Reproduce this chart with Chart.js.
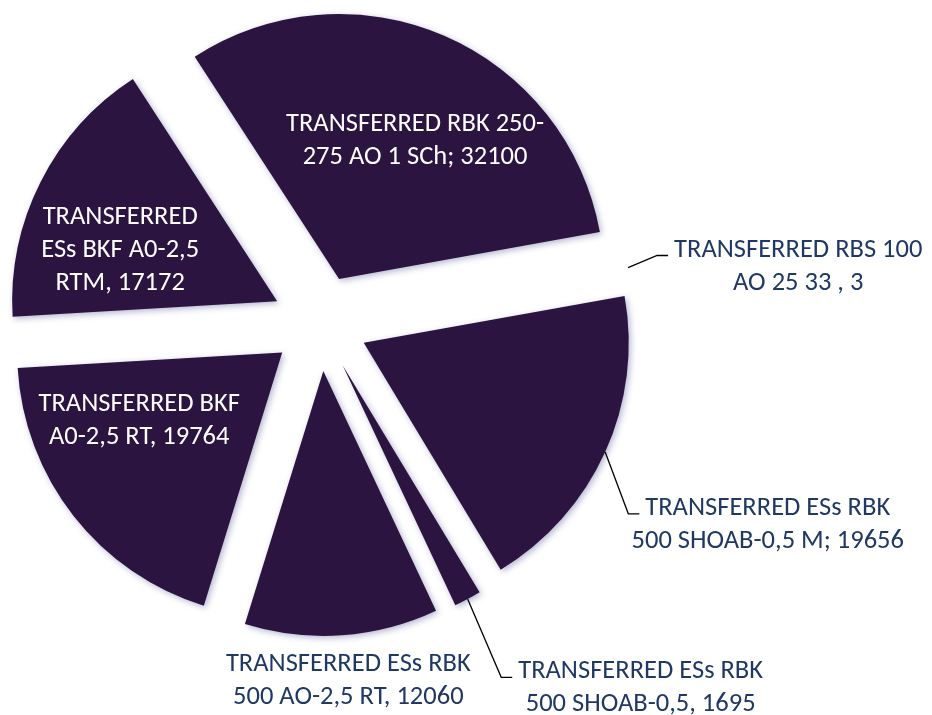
<!DOCTYPE html>
<html>
<head>
<meta charset="utf-8">
<script src="https://cdn.jsdelivr.net/npm/chart.js@4.4.1/dist/chart.umd.min.js"></script>
<style>
  html, body { margin: 0; background: #fff; }
</style>
</head>
<body>
<canvas id="chart" width="932" height="715"></canvas>
<script>
// slices, clockwise from the start angle
const categories = [
  'TRANSFERRED RBK 250-275 AO 1 SCh',
  'TRANSFERRED RBS 100 AO 25 33',
  'TRANSFERRED ESs RBK 500 SHOAB-0,5 M',
  'TRANSFERRED ESs RBK 500 SHOAB-0,5',
  'TRANSFERRED ESs RBK 500 AO-2,5 RT',
  'TRANSFERRED BKF A0-2,5 RT',
  'TRANSFERRED ESs BKF A0-2,5 RTM'
]
const values = [32100, 3, 19656, 1695, 12060, 19764, 17172]

// label text as wrapped in the picture, value goes on the last line
const labelHead = [
  ['TRANSFERRED RBK 250-'],
  ['TRANSFERRED RBS 100'],
  ['TRANSFERRED ESs RBK'],
  ['TRANSFERRED ESs RBK'],
  ['TRANSFERRED ESs RBK'],
  ['TRANSFERRED BKF'],
  ['TRANSFERRED', 'ESs BKF A0-2,5']
]
const labelTail = ['275 AO 1 SCh; ', 'AO 25 33 , ', '500 SHOAB-0,5 M; ', '500 SHOAB-0,5, ', '500 AO-2,5 RT, ', 'A0-2,5 RT, ', 'RTM, ']

// where each label sits, relative to its (exploded) slice centre; inside = white text
const labelPlace = [
  { dx: 76, dy: -140, inside: true },
  { dx: 431, dy: -50, inside: false, leader: true },
  { dx: 404, dy: 180, inside: false, leader: true },
  { dx: 298, dy: 321, inside: false, leader: true },
  { dx: 25, dy: 308, inside: false },
  { dx: -143, dy: 66, inside: true },
  { dx: -157, dy: -53, inside: true }
]

const SLICE = '#2c1440'
const OUT_TEXT = '#1f3864'
const EXPLODE = 48
const FONT = '26.5px Carlito, "Liberation Sans Narrow", sans-serif'
const LINE_H = 33

const explode = {
  id: 'explode',
  afterDatasetUpdate(chart, args) {
    args.meta.data.forEach(arc => {
      const mid = (arc.startAngle + arc.endAngle) / 2
      arc.x += EXPLODE * Math.cos(mid)
      arc.y += EXPLODE * Math.sin(mid)
    })
  }
}

const shadow = {
  id: 'shadow',
  beforeDatasetsDraw(chart) {
    const ctx = chart.ctx
    ctx.save()
    ctx.shadowColor = 'rgba(40, 50, 120, 0.35)'
    ctx.shadowBlur = 6
    ctx.shadowOffsetX = 2
    ctx.shadowOffsetY = 2
  },
  afterDatasetsDraw(chart) {
    chart.ctx.restore()
  }
}

const labels = {
  id: 'sliceLabels',
  afterDraw(chart) {
    const ctx = chart.ctx
    const arcs = chart.getDatasetMeta(0).data
    ctx.save()
    ctx.font = FONT
    ctx.textAlign = 'center'
    ctx.textBaseline = 'alphabetic'
    arcs.forEach((arc, i) => {
      const place = labelPlace[i]
      const lines = [...labelHead[i], labelTail[i] + values[i]]
      const cx = arc.x + place.dx
      const cy = arc.y + place.dy
      ctx.fillStyle = place.inside ? '#ffffff' : OUT_TEXT
      lines.forEach((l, k) => {
        const y = cy + (k - (lines.length - 1) / 2) * LINE_H + 8.5
        ctx.fillText(l, cx, y)
      })
      if (place.leader) {
        // leader runs from the middle of the slice's rim to the left of the first line
        const mid = (arc.startAngle + arc.endAngle) / 2
        const sx = arc.x + arc.outerRadius * Math.cos(mid)
        const sy = arc.y + arc.outerRadius * Math.sin(mid)
        const left = cx - ctx.measureText(lines[0]).width / 2
        const ey = cy - 9
        ctx.strokeStyle = '#000'
        ctx.lineWidth = 1.3
        ctx.beginPath()
        ctx.moveTo(sx, sy)
        ctx.lineTo(left - 17, ey)
        ctx.lineTo(left - 6, ey)
        ctx.stroke()
      }
    })
    ctx.restore()
  }
}

new Chart(document.getElementById('chart'), {
  type: 'pie',
  data: {
    labels: categories,
    datasets: [{
      data: values,
      backgroundColor: SLICE,
      borderWidth: 0,
      hoverOffset: 0,
      radius: 265
    }]
  },
  options: {
    responsive: false,
    devicePixelRatio: 1,
    animation: false,
    events: [],
    rotation: -33,
    layout: { padding: { left: 0, top: 0, right: 292, bottom: 69 } },
    plugins: {
      legend: { display: false },
      tooltip: { enabled: false }
    }
  },
  plugins: [explode, shadow, labels]
})
</script>
</body>
</html>
